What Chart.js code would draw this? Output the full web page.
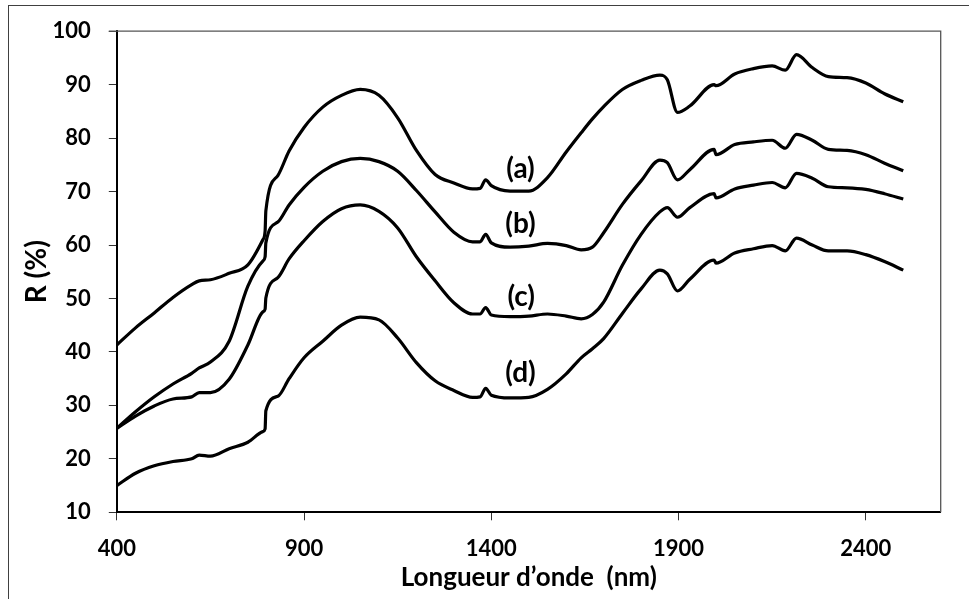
<!DOCTYPE html>
<html>
<head>
<meta charset="utf-8">
<script src="https://cdn.jsdelivr.net/npm/chart.js@4"></script>
<style>
  html, body { margin: 0; padding: 0; background: #fff; }
  #wrap { width: 969px; height: 599px; }
</style>
</head>
<body>
<div id="wrap"><canvas id="chart" width="969" height="599"></canvas></div>
<script>
// wavelength (nm)
const wavelength = [400, 450, 500, 550, 600, 620, 650, 700, 750, 790, 796, 798, 830, 860, 900, 950, 1000, 1050, 1100, 1150,
    1200, 1250, 1300, 1350, 1370, 1385, 1400, 1450, 1500, 1550, 1600, 1640, 1670, 1700, 1750, 1800, 1850, 1870, 1897, 1930,
    1995, 2000, 2050, 2100, 2150, 2185, 2215, 2257, 2300, 2350, 2400, 2450, 2500];

// reflectance R (%)
const curveA = [41.3, 44.5, 47.3, 50.2, 52.6, 53.3, 53.5, 54.7, 56.3, 61.0, 62.6, 66.4, 73.0, 77.6, 82.0, 85.8, 88.0, 89.1, 88.0, 83.8,
    77.7, 73.2, 71.6, 70.5, 70.6, 72.2, 71.1, 70.1, 70.1, 72.6, 77.4, 81.0, 83.6, 85.9, 89.1, 90.8, 91.8, 90.9, 84.8, 86.0,
    90.0, 89.8, 92.0, 93.0, 93.5, 92.7, 95.6, 93.2, 91.5, 91.3, 90.3, 88.3, 86.8];
const curveB = [25.7, 28.8, 31.6, 34.0, 36.0, 37.0, 38.1, 42.0, 52.3, 57.0, 57.8, 60.4, 64.3, 67.5, 70.8, 73.8, 75.6, 76.2, 75.6, 73.8,
    70.2, 66.2, 62.4, 60.6, 60.6, 62.0, 60.4, 59.6, 59.8, 60.3, 59.9, 59.1, 59.6, 62.3, 67.6, 72.0, 75.9, 75.4, 72.2, 74.1,
    77.9, 76.9, 78.8, 79.3, 79.6, 78.1, 80.7, 79.6, 77.9, 77.7, 76.9, 75.3, 73.9];
const curveC = [25.7, 28.0, 29.9, 31.2, 31.6, 32.4, 32.4, 34.9, 41.3, 47.5, 48.0, 50.1, 53.9, 57.4, 60.8, 64.4, 66.8, 67.5, 66.3, 63.2,
    57.8, 53.3, 49.2, 47.1, 47.1, 48.3, 46.9, 46.6, 46.7, 47.1, 46.7, 46.2, 47.0, 49.3, 56.2, 62.0, 66.2, 67.0, 65.2, 67.0,
    69.6, 68.8, 70.5, 71.2, 71.7, 70.7, 73.4, 72.5, 70.9, 70.7, 70.4, 69.6, 68.6];
const curveD = [15.0, 17.3, 18.7, 19.5, 20.0, 20.7, 20.5, 21.9, 23.1, 25.1, 25.6, 29.0, 31.7, 35.0, 38.9, 42.0, 45.0, 46.5, 46.0, 42.6,
    38.0, 34.6, 32.8, 31.5, 31.6, 33.2, 31.9, 31.4, 31.5, 33.0, 35.9, 38.9, 40.6, 42.5, 47.2, 51.8, 55.3, 54.6, 51.4, 53.6,
    57.2, 56.6, 58.5, 59.3, 59.9, 58.9, 61.3, 60.0, 58.9, 58.9, 58.2, 56.9, 55.3];

const xTicks = [400, 900, 1400, 1900, 2400];
const yTicks = [10, 20, 30, 40, 50, 60, 70, 80, 90, 100];

// curve labels, anchored in data units
const labelText = ['(a)', '(b)', '(c)', '(d)'];
const labelX = [1478, 1478, 1480, 1478];
const labelY = [74.2, 64.0, 50.3, 36.1];

const FONT = 'Lato';

function toPoints(ys) {
    return wavelength.map((x, i) => ({ x: x, y: ys[i] }));
}

function lineSet(ys) {
    return {
        data: toPoints(ys),
        borderColor: '#000',
        borderWidth: 3.2,
        pointRadius: 0,
        fill: false,
        cubicInterpolationMode: 'monotone'
    };
}

const framePlugin = {
    id: 'frame',
    beforeDraw(chart) {
        const c = chart.ctx;
        c.save();
        c.fillStyle = '#fff';
        c.fillRect(0, 0, chart.width, chart.height);
        c.strokeStyle = '#404040';
        c.lineWidth = 1;
        c.strokeRect(8.5, 5.5, 1000, 1000);
        c.restore();
    },
    beforeDatasetsDraw(chart) {
        const a = chart.chartArea;
        const c = chart.ctx;
        c.save();
        c.strokeStyle = '#555';
        c.lineWidth = 1.3;
        c.beginPath();
        c.moveTo(a.left - 8, a.top);
        c.lineTo(a.right, a.top);
        c.lineTo(a.right, a.bottom);
        c.stroke();
        c.restore();
    }
};

const labelPlugin = {
    id: 'curveLabels',
    afterDatasetsDraw(chart) {
        const c = chart.ctx;
        const xs = chart.scales.x, ys = chart.scales.y;
        c.save();
        c.font = 'bold 28px ' + FONT;
        c.fillStyle = '#000';
        c.textAlign = 'center';
        c.textBaseline = 'middle';
        labelText.forEach((t, i) => {
            c.fillText(t, xs.getPixelForValue(labelX[i]), ys.getPixelForValue(labelY[i]));
        });
        c.restore();
    }
};

const ctx = document.getElementById('chart');
new Chart(ctx, {
    type: 'line',
    data: {
        datasets: [lineSet(curveA), lineSet(curveB), lineSet(curveC), lineSet(curveD)]
    },
    options: {
        responsive: false,
        animation: false,
        events: [],
        layout: { padding: { top: 22, right: 28.3, bottom: 0, left: 0 } },
        plugins: { legend: { display: false }, tooltip: { enabled: false } },
        scales: {
            x: {
                type: 'linear',
                min: 400,
                max: 2600,
                afterBuildTicks(s) { s.ticks = xTicks.map(v => ({ value: v })); },
                afterFit(s) { s.height = 86.7; },
                border: { color: '#000', width: 2 },
                grid: { drawOnChartArea: false, tickLength: 8, color: '#333', lineWidth: 1 },
                ticks: {
                    color: '#000',
                    padding: 15,
                    maxRotation: 0,
                    callback: v => String(v),
                    font: { family: FONT, size: 22, weight: 'bold' }
                },
                title: {
                    display: true,
                    text: 'Longueur d’onde  (nm)',
                    color: '#000',
                    padding: { top: 0, bottom: 6 },
                    font: { family: FONT, size: 26, weight: 'bold' }
                }
            },
            y: {
                min: 10,
                max: 100,
                afterBuildTicks(s) { s.ticks = yTicks.map(v => ({ value: v })); },
                afterFit(s) { s.width = 116.8; },
                border: { color: '#000', width: 2 },
                grid: { drawOnChartArea: false, tickLength: 8, color: '#333', lineWidth: 1 },
                ticks: {
                    color: '#000',
                    padding: 18,
                    callback: v => String(v),
                    font: { family: FONT, size: 22, weight: 'bold' }
                },
                title: {
                    display: true,
                    text: 'R (%)',
                    color: '#000',
                    padding: { top: 20, bottom: 0 },
                    font: { family: FONT, size: 28, weight: 'bold' }
                }
            }
        }
    },
    plugins: [framePlugin, labelPlugin]
});
</script>
</body>
</html>
